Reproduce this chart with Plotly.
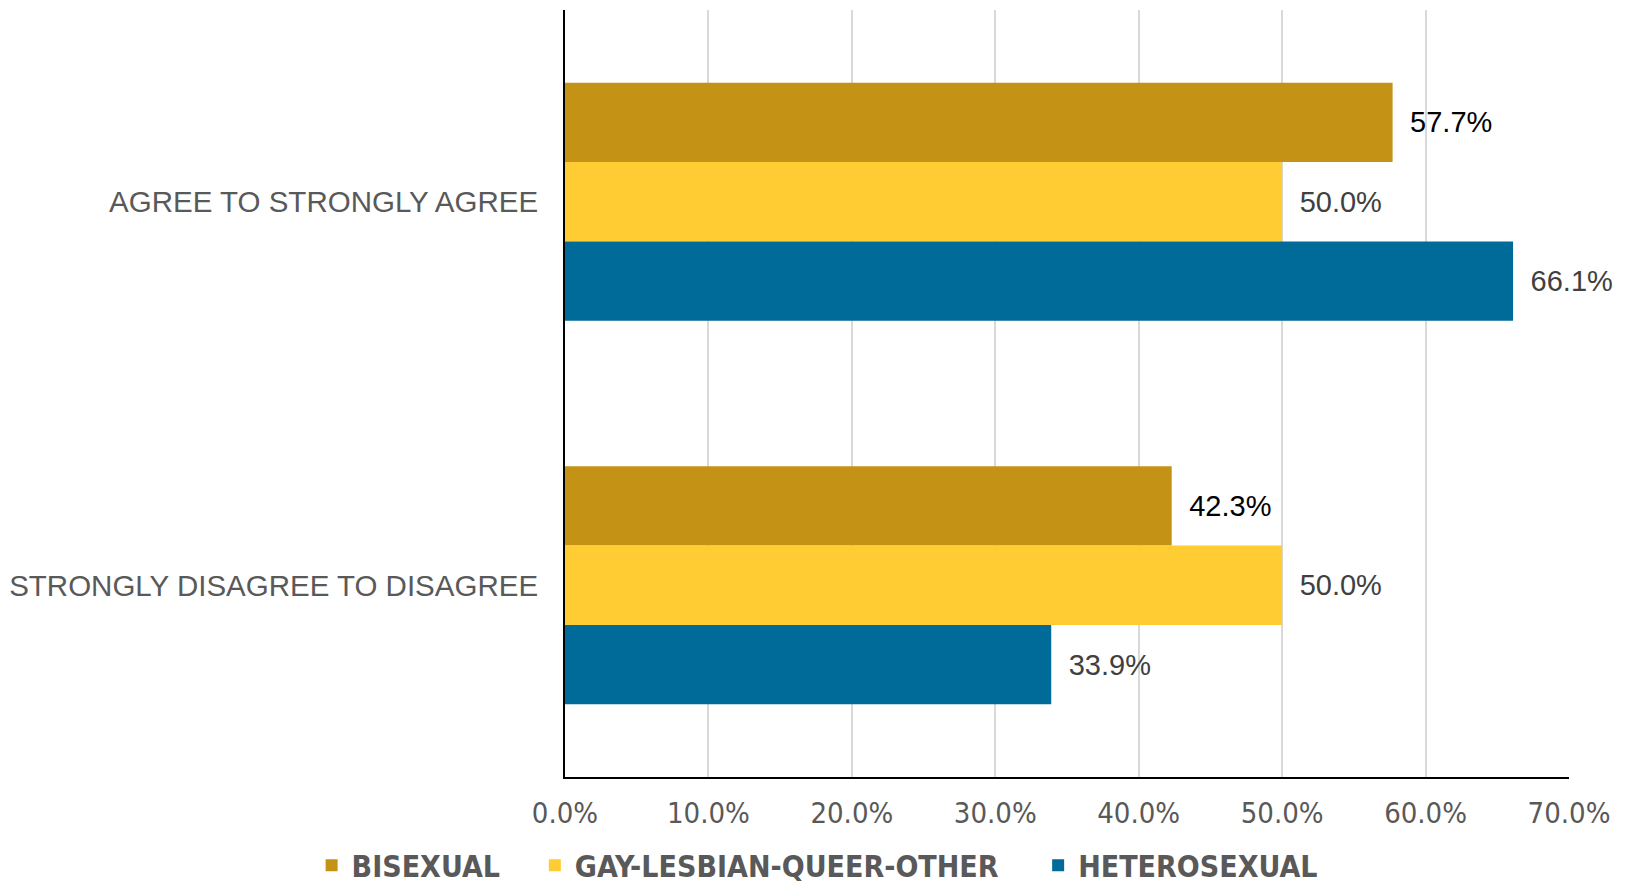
import plotly.graph_objs as go

# Data
categories = ["AGREE TO STRONGLY AGREE", "STRONGLY DISAGREE TO DISAGREE"]
groups = ["BISEXUAL", "GAY-LESBIAN-QUEER-OTHER", "HETEROSEXUAL"]
bisexual = [0.577, 0.423]
gay_lesbian_queer_other = [0.500, 0.500]
heterosexual = [0.661, 0.339]
x_ticks = [0.0, 0.1, 0.2, 0.3, 0.4, 0.5, 0.6, 0.7]

series = [bisexual, gay_lesbian_queer_other, heterosexual]
colors = ["#C49214", "#FFCC33", "#006A98"]
label_colors = ["#000000", "#404040", "#404040"]

# Legend entries are placed one by one (container coords) to match the original spacing
legend_x = [0.1873, 0.3250, 0.6355]

# the page body has an 8px margin, so the figure is a bit smaller than the window
W, H = 1621, 876
NARROW = "DejaVu Sans Condensed, Liberation Sans, Arial"

fig = go.Figure()
for i, (name, values) in enumerate(zip(groups, series)):
    fig.add_trace(
        go.Bar(
            y=categories,
            x=values,
            name=name,
            orientation="h",
            marker=dict(color=colors[i], line=dict(width=0)),
            text=["\u2002" + f"{v * 100:.1f}%" for v in values],
            textposition="outside",
            textfont=dict(family="Liberation Sans, Arial", size=29, color=label_colors[i]),
            constraintext="none",
            cliponaxis=False,
            legend="legend" if i == 0 else f"legend{i + 1}",
            hoverinfo="skip",
        )
    )

legend_style = dict(
    orientation="h",
    xref="container",
    yref="container",
    y=0.0215,
    yanchor="middle",
    xanchor="left",
    font=dict(family=NARROW, size=30, color="#595959", weight="bold"),
    bgcolor="rgba(0,0,0,0)",
)

fig.update_layout(
    width=W,
    height=H,
    barmode="group",
    bargap=0.38,
    bargroupgap=0,
    plot_bgcolor="white",
    paper_bgcolor="white",
    margin=dict(l=557, r=60, t=2, b=107),
    showlegend=True,
    legend=dict(x=legend_x[0], **legend_style),
    legend2=dict(x=legend_x[1], **legend_style),
    legend3=dict(x=legend_x[2], **legend_style),
    xaxis=dict(
        range=[0, 0.7],
        tickvals=x_ticks,
        tickformat=".1%",
        automargin=False,
        showgrid=True,
        gridcolor="#D9D9D9",
        gridwidth=2,
        zeroline=False,
        showline=True,
        linecolor="#000000",
        linewidth=2,
        ticks="",
        ticklabelstandoff=9,
        tickfont=dict(family=NARROW, size=29, color="#595959"),
    ),
    yaxis=dict(
        autorange="reversed",
        automargin=False,
        showgrid=False,
        zeroline=False,
        showline=True,
        linecolor="#000000",
        linewidth=2,
        ticks="",
        ticklabelstandoff=19,
        tickfont=dict(family="Liberation Sans, Arial", size=29.5, color="#595959"),
    ),
)

fig.write_html("out.html")
